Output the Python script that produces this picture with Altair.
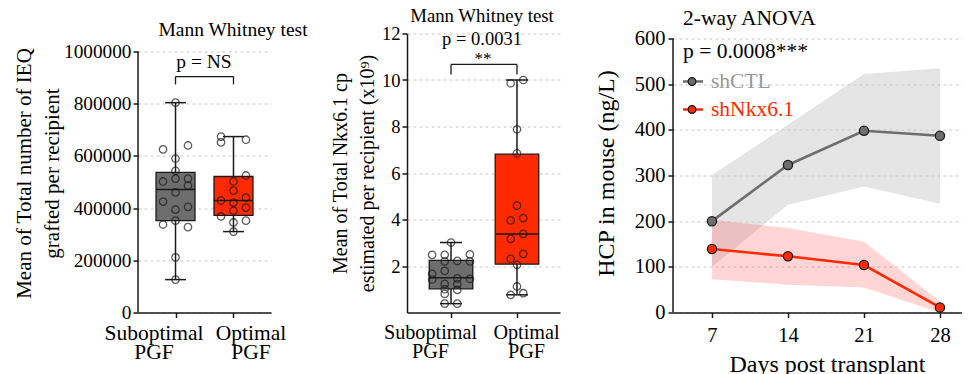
import altair as alt
import pandas as pd

FONT = "Liberation Serif"
GREY = "#6e6e6e"
RED = "#ff2a00"
INK = "#1a1a1a"

# ---------------- data ----------------
cats = ["Suboptimal", "Optimal"]

# Panel A: total IEQ grafted per recipient
a_sub_vals = [804000, 625000, 640000, 590000, 543000, 502000, 513000, 513000, 486000,
              460000, 425000, 394000, 405000, 337000, 352000, 327000, 211000, 126000]
a_sub_lane = [0, -1, 1, 0, 0, -1, 0, 1, 1, 0, -1, 0, 1, -1, 0, 1, 0, 0]
a_opt_vals = [674000, 652000, 662000, 525000, 502000, 467000, 429000, 421000, 440000,
              402000, 390000, 368000, 345000, 352000, 310000]
a_opt_lane = [-1, -1, 1, 1, 0, 0, -1, 0, 1, 1, 0, -1, 0, 1, 0]
a_min = [126000, 310000]
a_q1 = [352000, 372000]
a_med = [471000, 429000]
a_q3 = [537000, 521000]
a_max = [804000, 674000]

# Panel B: Nkx6.1 copies (x10^9)
b_sub_vals = [3.01, 2.48, 2.48, 2.50, 2.20, 2.22, 2.20, 1.79, 1.66, 1.47, 1.45, 1.42,
              1.23, 1.22, 1.00, 0.97, 0.80, 0.38, 0.38]
b_sub_lane = [0, -3, -1, 3, -1, 1, 3, -1, -3, 1, 3, -3, -1, 1, -1, 1, -1, -1, 1]
b_opt_vals = [10.0, 9.86, 7.88, 6.85, 4.60, 3.96, 4.06, 3.38, 3.17, 2.52, 2.31, 2.05,
              1.12, 0.76, 0.83]
b_opt_lane = [1, -1, 0, 0, 0, -1, 1, 1, -1, 1, -1, 0, 0, -1, 1]
b_min = [0.38, 0.76]
b_q1 = [1.02, 2.08]
b_med = [1.50, 3.38]
b_q3 = [2.24, 6.81]
b_max = [3.01, 10.0]

# Panel C: HCP in mouse (ng/L)
days = [7, 14, 21, 28]
series = ["shCTL", "shNkx6.1"]
ctl_mean = [200, 323, 398, 387]
ctl_lo = [100, 236, 276, 238]
ctl_hi = [301, 411, 522, 535]
nkx_mean = [139, 123, 104, 11]
nkx_lo = [73, 61, 55, 0]
nkx_hi = [203, 185, 155, 24]

a_ticks = [0, 200000, 400000, 600000, 800000, 1000000]
b_ticks = [2, 4, 6, 8, 10, 12]
c_ticks = [0, 100, 200, 300, 400, 500, 600]

GRID = dict(grid=True, gridDash=[3, 3], gridColor="#c8c8c8", gridWidth=1)
LABEL_EXPR = ("datum.value == 0 ? ['%s', 'PGF'] : ['%s', 'PGF']" % (cats[0], cats[1]))


def box_panel(sub_vals, sub_lane, opt_vals, opt_lane, mn, q1, md, q3, mx,
              width, height, xdom, half, cap, lane_w, ytop, yticks, ytitle, tpad,
              lab_fs, tick_fs, title_fs, loff, draw_axis_line, bracket, texts):
    pts = pd.DataFrame({
        "idx": [0] * len(sub_vals) + [1] * len(opt_vals),
        "value": sub_vals + opt_vals,
        "lane": sub_lane + opt_lane,
    })
    stats = pd.DataFrame({"idx": [0, 1], "cat": cats, "mn": mn, "q1": q1, "md": md,
                          "q3": q3, "mx": mx})

    xaxis = alt.Axis(
        title=None, values=[0, 1], labelExpr=LABEL_EXPR, labelAngle=0,
        labelFontSize=lab_fs, labelLineHeight=19.5, labelPadding=4.5,
        labelOffset={"condition": {"test": "datum.value == 0", "value": loff[0]},
                     "value": loff[1]},
        tickSize=5, tickWidth=1.5, tickColor=INK, domainColor=INK, domainWidth=1.5,
        grid=False,
    )
    xscale = alt.Scale(domain=xdom, nice=False, zero=False)
    yaxis = alt.Axis(
        values=yticks, format="d", title=ytitle, titleFontSize=title_fs,
        titleLineHeight=title_fs * 1.33, titlePadding=tpad, labelFontSize=tick_fs,
        labelPadding=2, tickSize=5, tickWidth=1.5, tickColor=INK,
        domain=not draw_axis_line, domainColor=INK, domainWidth=1.5, **GRID,
    )
    yscale = alt.Scale(domain=[0, ytop], nice=False, zero=True)

    base_s = alt.Chart(stats).transform_calculate(
        left="datum.idx - %f" % half, right="datum.idx + %f" % half,
        cl="datum.idx - %f" % cap, cr="datum.idx + %f" % cap)
    whisk = base_s.mark_rule(color=INK, strokeWidth=1.5).encode(
        x=alt.X("idx:Q", scale=xscale, axis=xaxis),
        y=alt.Y("mn:Q", scale=yscale, axis=yaxis), y2="mx:Q")
    cap_lo = base_s.mark_rule(color=INK, strokeWidth=1.5).encode(
        x="cl:Q", x2="cr:Q", y="mn:Q")
    cap_hi = base_s.mark_rule(color=INK, strokeWidth=1.5).encode(
        x="cl:Q", x2="cr:Q", y="mx:Q")
    box = base_s.mark_rect(stroke=INK, strokeWidth=1.3).encode(
        x="left:Q", x2="right:Q", y="q1:Q", y2="q3:Q",
        fill=alt.Fill("cat:N", scale=alt.Scale(domain=cats, range=[GREY, RED]), legend=None))
    med = base_s.mark_rule(color=INK, strokeWidth=1.5).encode(
        x="left:Q", x2="right:Q", y="md:Q")
    dots = alt.Chart(pts).transform_calculate(
        xp="datum.idx + datum.lane * %f" % lane_w
    ).mark_point(shape="circle", filled=False, stroke=INK, strokeWidth=1.3, size=55).encode(
        x="xp:Q", y="value:Q")

    layers = [whisk, cap_lo, cap_hi, box, med, dots]

    if draw_axis_line:
        axl = alt.Chart(pd.DataFrame({"v": [0]})).mark_rule(color=INK, strokeWidth=1.5).encode(
            x=alt.value(0), y=alt.datum(0), y2=alt.datum(yticks[-1]))
        layers.append(axl)

    # significance bracket
    by, bend = bracket
    br = pd.DataFrame({"a": [0], "b": [1], "y": [by]})
    layers.append(alt.Chart(br).mark_rule(color=INK, strokeWidth=1.3).encode(
        x="a:Q", x2="b:Q", y="y:Q"))
    ends = pd.DataFrame({"idx": [0, 1], "y": [by, by], "e": [bend, bend]})
    layers.append(alt.Chart(ends).mark_rule(color=INK, strokeWidth=1.3).encode(
        x="idx:Q", y="y:Q", y2="e:Q"))

    for (txt, tx, ty, fs) in texts:
        layers.append(alt.Chart(pd.DataFrame({"t": [txt]})).mark_text(
            font=FONT, fontSize=fs, color="black", align="center", baseline="middle").encode(
            text="t:N", x=alt.value(tx), y=alt.value(ty)))

    return alt.layer(*layers).properties(width=width, height=height)


H = 279

panel_a = box_panel(
    a_sub_vals, a_sub_lane, a_opt_vals, a_opt_lane, a_min, a_q1, a_med, a_q3, a_max,
    width=133, height=H, xdom=[-0.647, 1.647], half=0.336, cap=0.18, lane_w=0.215,
    ytop=1000000 * 279 / 261, yticks=a_ticks,
    ytitle=["Mean of Total number of IEQ", "grafted per recipient"], tpad=1,
    lab_fs=21.5, tick_fs=19.3, title_fs=21,
    loff=(-22, 17), draw_axis_line=True, bracket=(904000, 874000),
    texts=[("Mann Whitney test", 95, -4, 19.5), ("p = NS", 66, 28, 19.5)],
)

panel_b = box_panel(
    b_sub_vals, b_sub_lane, b_opt_vals, b_opt_lane, b_min, b_q1, b_med, b_q3, b_max,
    width=153, height=H, xdom=[-0.667, 1.652], half=0.33, cap=0.167, lane_w=0.0955,
    ytop=12, yticks=b_ticks,
    ytitle=["Mean of Total Nkx6.1 cp", "estimated per recipient (x10\u2079)"], tpad=4,
    lab_fs=20.2, tick_fs=18.5, title_fs=20,
    loff=(-21, 9), draw_axis_line=False, bracket=(10.67, 10.24),
    texts=[("Mann Whitney test", 75, -18, 18.8), ("p = 0.0031", 75, 5.5, 18.5),
           ("**", 76, 25.5, 17)],
)

# ---------------- panel C ----------------
hcp = pd.DataFrame({
    "day": days * 2,
    "series": [series[0]] * 4 + [series[1]] * 4,
    "mean": ctl_mean + nkx_mean,
    "lo": ctl_lo + nkx_lo,
    "hi": ctl_hi + nkx_hi,
})
cscale = alt.Scale(domain=series, range=[GREY, RED])
xC = alt.X("day:Q", scale=alt.Scale(domain=[3.41, 30.03], nice=False, zero=False),
           axis=alt.Axis(values=days, title="Days post transplant", titleFontSize=24,
                         titlePadding=6.5, titleX=154, labelFontSize=20.5,
                         labelPadding=7.5, tickSize=5, tickWidth=1.5, tickColor=INK,
                         domainColor=INK, domainWidth=1.5, grid=False))
yC = alt.Y("mean:Q", scale=alt.Scale(domain=[0, 600 * 279 / 274], nice=False),
           axis=alt.Axis(values=c_ticks, title="HCP in mouse (ng/L)", titleFontSize=24,
                         titlePadding=16, labelFontSize=20.5, labelPadding=3, tickSize=5,
                         tickWidth=1.5, tickColor=INK, domain=False, **GRID))

band_ctl = alt.Chart(hcp).transform_filter(
    alt.datum.series == series[0]
).mark_area(fill="#cfcfcf", fillOpacity=0.55).encode(x=xC, y=alt.Y("lo:Q"), y2="hi:Q")
band_nkx = alt.Chart(hcp).transform_filter(
    alt.datum.series == series[1]
).mark_area(fill="#ff4040", fillOpacity=0.22).encode(x=xC, y=alt.Y("lo:Q"), y2="hi:Q")
lines = alt.Chart(hcp).mark_line(strokeWidth=2.6).encode(
    x=xC, y=yC, color=alt.Color("series:N", scale=cscale, legend=None))
markers = alt.Chart(hcp).mark_point(shape="circle", filled=True, opacity=1, stroke=INK,
                                    strokeWidth=1.3, size=85).encode(
    x=xC, y="mean:Q", fill=alt.Fill("series:N", scale=cscale, legend=None))
axl_c = alt.Chart(pd.DataFrame({"v": [0]})).mark_rule(color=INK, strokeWidth=1.5).encode(
    x=alt.value(0), y=alt.datum(0), y2=alt.datum(c_ticks[-1]))

c_layers = [band_ctl, band_nkx, lines, markers, axl_c]
for txt, ty in [("2-way ANOVA", -15), ("p = 0.0008***", 18)]:
    c_layers.append(alt.Chart(pd.DataFrame({"t": [txt]})).mark_text(
        font=FONT, fontSize=21.5, color="black", align="left", baseline="middle").encode(
        text="t:N", x=alt.value(10), y=alt.value(ty)))
for name, col, ly in zip(series, ["#999999", RED], [48, 76]):
    line_col = GREY if name == series[0] else RED
    leg = pd.DataFrame({"t": [name]})
    c_layers.append(alt.Chart(leg).mark_rule(color=line_col, strokeWidth=2.5).encode(
        x=alt.value(10), x2=alt.value(30), y=alt.value(ly)))
    c_layers.append(alt.Chart(leg).mark_point(shape="circle", filled=True, opacity=1,
                                              fill=line_col, stroke=INK, strokeWidth=1.2,
                                              size=60).encode(
        x=alt.value(19), y=alt.value(ly)))
    c_layers.append(alt.Chart(leg).mark_text(
        font=FONT, fontSize=21.5, color=col, align="left", baseline="middle").encode(
        text="t:N", x=alt.value(38), y=alt.value(ly)))

panel_c = alt.layer(*c_layers).properties(width=289, height=H)

chart = alt.hconcat(
    alt.hconcat(panel_a, panel_b, spacing=22),
    panel_c, spacing=34,
).properties(
    padding={"left": 5, "top": -1.5, "right": 0, "bottom": 0},
    background="white",
).configure_view(stroke=None).configure_axis(
    labelFont=FONT, titleFont=FONT, labelColor="black", titleColor="black",
    titleFontWeight="normal",
)

chart.save("out.html", embed_options={"renderer": "svg", "actions": False})
